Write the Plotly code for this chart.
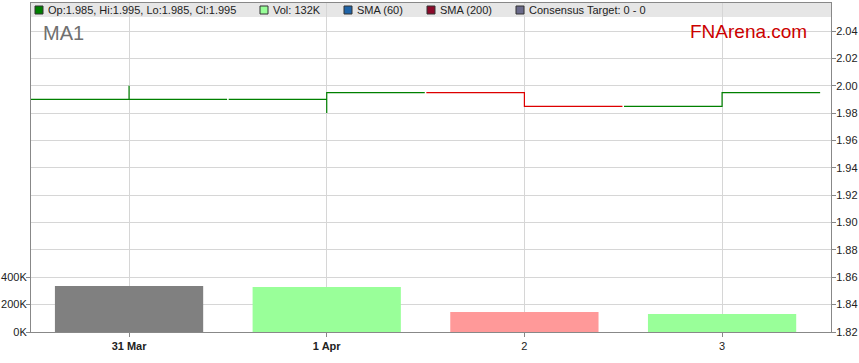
import plotly.graph_objects as go

# ---- data ----
dates = ["31 Mar", "1 Apr", "2", "3"]
opens = [1.99, 1.99, 1.995, 1.985]
highs = [2.00, 1.995, 1.995, 1.995]
lows = [1.99, 1.98, 1.985, 1.985]
closes = [1.99, 1.995, 1.985, 1.995]
volumes = [336000, 329000, 146000, 132000]
price_ticks = [1.82, 1.84, 1.86, 1.88, 1.90, 1.92, 1.94, 1.96, 1.98, 2.00, 2.02, 2.04]
vol_ticks = [0, 200000, 400000]
vol_tick_labels = ["0K", "200K", "400K"]

FONT = "Arial, Liberation Sans, sans-serif"
UP = "#008000"
DOWN = "#dd0000"
GRID = "#d6d6d6"

fig = go.Figure()

# volume bars
vol_colors = []
for o, c in zip(opens, closes):
    if c > o:
        vol_colors.append("#99ff99")
    elif c < o:
        vol_colors.append("#ff9999")
    else:
        vol_colors.append("#808080")

idx = list(range(len(dates)))
fig.add_trace(go.Bar(x=idx, y=volumes, width=0.75, marker=dict(color=vol_colors, line_width=0),
                     yaxis="y2", showlegend=False, hoverinfo="skip"))

# price steps
gap = 0.004
for i, (o, h, l, c) in enumerate(zip(opens, highs, lows, closes)):
    col = DOWN if c < o else UP
    xs = [i - 0.5 + gap, i, i, i, i, i + 0.5 - gap]
    ys = [o, o, h, l, c, c]
    fig.add_trace(go.Scatter(x=xs, y=ys, mode="lines", line=dict(color=col, width=1.2),
                             showlegend=False, hoverinfo="skip"))

ticktext = [f"<b>{d}</b>" if " " in d else d for d in dates]

fig.update_layout(
    width=859, height=363,
    margin=dict(l=31, r=28, t=3, b=31),
    paper_bgcolor="white",
    plot_bgcolor="white",
    font=dict(family=FONT, size=11, color="#222"),
    xaxis=dict(range=[-0.496, 3.551], tickvals=idx, ticktext=ticktext,
               showgrid=True, gridcolor=GRID, gridwidth=1, automargin=False,
               showline=True, linecolor="#888", linewidth=1, mirror=True,
               ticks="outside", ticklen=4, tickcolor="#888",
               zeroline=False, tickfont=dict(size=11, color="#222")),
    yaxis=dict(side="right", range=[1.82, 2.0605], tickvals=price_ticks,
               ticktext=[f"{v:.2f}" for v in price_ticks],
               showgrid=True, gridcolor=GRID, gridwidth=1, automargin=False,
               showline=True, linecolor="#888", linewidth=1,
               ticks="outside", ticklen=4, tickcolor="#888", ticklabelstandoff=-2,
               zeroline=False, tickfont=dict(size=11, color="#222")),
    yaxis2=dict(overlaying="y", side="left", range=[0, 329 / 27.36 * 200000],
                tickvals=vol_ticks, ticktext=vol_tick_labels, automargin=False,
                showgrid=False, showline=True, linecolor="#888", linewidth=1,
                ticks="outside", ticklen=4, tickcolor="#888", ticklabelstandoff=-3,
                zeroline=False, tickfont=dict(size=11, color="#222")),
)

# legend bar background
fig.add_shape(type="rect", xref="x domain", yref="y domain", x0=0, x1=1, y0=0.9574, y1=1,
              fillcolor="#e6e6e6", line_width=0, layer="below")

legend_items = [
    ("#008000", "Op:1.985, Hi:1.995, Lo:1.985, Cl:1.995", 35),
    ("#99ff99", "Vol: 132K", 260),
    ("#1f64a8", "SMA (60)", 344),
    ("#8b0a2a", "SMA (200)", 427),
    ("#6a6a8a", "Consensus Target: 0 - 0", 516),
]
for col, txt, px in legend_items:
    xs = (px - 31) / 800
    fig.add_shape(type="rect", xref="paper", yref="paper",
                  x0=xs, x1=xs + 8 / 800, y0=(332 - 14) / 329, y1=(332 - 6) / 329,
                  fillcolor=col, line=dict(color="#333", width=1))
    fig.add_annotation(xref="paper", yref="paper", x=xs + 11 / 800, y=(332 - 10) / 329,
                       text=txt, showarrow=False, xanchor="left", yanchor="middle",
                       font=dict(family=FONT, size=11, color="#222"))

fig.add_annotation(xref="paper", yref="paper", x=(41 - 31) / 800, y=(332 - 33) / 329,
                   text="MA1", showarrow=False, xanchor="left", yanchor="middle",
                   font=dict(family=FONT, size=20, color="#707070"))
fig.add_annotation(xref="paper", yref="paper", x=(809 - 31) / 800, y=(332 - 32) / 329,
                   text="FNArena.com", showarrow=False, xanchor="right", yanchor="middle",
                   font=dict(family=FONT, size=19, color="#cc0000"))

fig.write_html("out.html", config={"displayModeBar": False},
               post_script="document.body.style.margin='0';document.body.style.overflow='hidden';")
